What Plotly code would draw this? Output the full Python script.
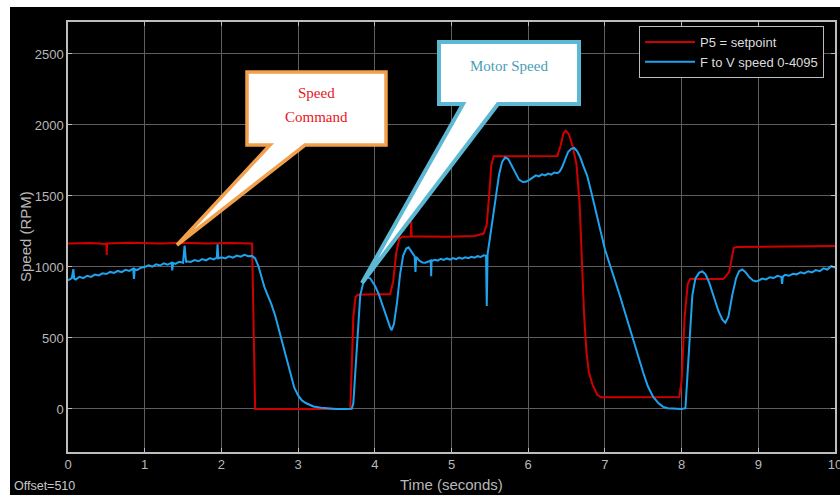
import plotly.graph_objects as go

# ---------------- data ----------------
setpoint_t = [0.00, 0.30, 0.50, 0.505, 0.51, 0.80, 1.20, 1.50, 1.80, 2.10, 2.40, 2.42, 2.44,
              3.00, 3.68, 3.70, 3.72, 3.75, 3.78, 4.00, 4.20, 4.24, 4.28, 4.32, 4.36,
              4.47, 4.475, 4.48, 4.60, 4.95, 5.30, 5.42, 5.46, 5.49, 5.52, 5.55,
              6.00, 6.38, 6.42, 6.46, 6.49, 6.53, 6.58, 6.63, 6.67, 6.70, 6.73, 6.76,
              6.79, 6.84, 6.90, 6.95, 7.50, 7.97, 8.00, 8.04, 8.08, 8.11, 8.54, 8.58,
              8.62, 8.65, 8.68, 8.72, 9.20, 9.60, 10.00]
setpoint_v = [1165, 1168, 1162, 1085, 1165, 1170, 1166, 1170, 1165, 1168, 1165, 600, 0,
              0, 0, 300, 650, 790, 805, 808, 808, 900, 1100, 1200, 1212,
              1214, 1320, 1214, 1215, 1212, 1218, 1235, 1300, 1500, 1720, 1780,
              1782, 1782, 1850, 1940, 1960, 1935, 1850, 1720, 1450, 1000, 650, 400,
              260, 170, 100, 82, 82, 84, 200, 650, 880, 915, 915, 935,
              965, 1050, 1135, 1140, 1142, 1145, 1148]

speed_t = [0.00, 0.05, 0.07, 0.08, 0.10, 0.15, 0.20, 0.25, 0.30, 0.35, 0.40, 0.45, 0.50,
           0.55, 0.60, 0.65, 0.70, 0.75, 0.80, 0.85, 0.86, 0.87, 0.90, 0.95, 1.00,
           1.05, 1.10, 1.15, 1.20, 1.25, 1.30, 1.35, 1.36, 1.37, 1.40, 1.45, 1.50,
           1.52, 1.54, 1.55, 1.60, 1.65, 1.70, 1.75, 1.80, 1.85, 1.90, 1.94, 1.95,
           1.96, 2.00, 2.05, 2.10, 2.15, 2.20, 2.25, 2.30, 2.35, 2.40, 2.44, 2.48,
           2.52, 2.56, 2.60, 2.65, 2.70, 2.75, 2.80, 2.85, 2.90, 2.95, 3.00, 3.05,
           3.10, 3.15, 3.20, 3.30, 3.40, 3.50, 3.60, 3.70, 3.72, 3.75, 3.78, 3.81,
           3.85, 3.90, 3.94, 4.00, 4.05, 4.10, 4.15, 4.20, 4.22, 4.25, 4.29, 4.33,
           4.37, 4.41, 4.44, 4.48, 4.52, 4.53, 4.54, 4.58, 4.62, 4.66, 4.70, 4.73,
           4.735, 4.74, 4.78, 4.82, 4.86, 4.90, 4.94, 4.98, 5.02, 5.06, 5.10, 5.14,
           5.18, 5.22, 5.26, 5.30, 5.34, 5.38, 5.42, 5.45, 5.46, 5.47, 5.50, 5.54,
           5.58, 5.62, 5.66, 5.70, 5.74, 5.78, 5.83, 5.88, 5.93, 5.97, 6.02, 6.06,
           6.10, 6.14, 6.18, 6.22, 6.26, 6.30, 6.34, 6.38, 6.41, 6.44, 6.48, 6.52,
           6.56, 6.60, 6.64, 6.68, 6.72, 6.77, 6.83, 6.90, 6.95, 7.00, 7.05, 7.10,
           7.15, 7.20, 7.25, 7.30, 7.37, 7.43, 7.50, 7.56, 7.63, 7.70, 7.76, 7.82,
           7.90, 8.00, 8.05, 8.08, 8.11, 8.14, 8.18, 8.23, 8.27, 8.31, 8.36, 8.42,
           8.48, 8.53, 8.57, 8.61, 8.66, 8.71, 8.75, 8.79, 8.83, 8.88, 8.93, 8.97,
           9.01, 9.05, 9.10, 9.15, 9.20, 9.25, 9.30, 9.31, 9.32, 9.35, 9.40, 9.45,
           9.50, 9.55, 9.60, 9.65, 9.70, 9.75, 9.80, 9.85, 9.90, 9.95, 10.00]
speed_v = [905, 922, 985, 918, 912, 930, 921, 938, 930, 946, 940, 955, 950,
           965, 958, 972, 963, 980, 972, 988, 915, 985, 978, 995, 1000,
           1012, 1003, 1018, 1010, 1025, 1016, 1030, 975, 1028, 1022, 1036, 1030,
           1150, 1032, 1040, 1035, 1048, 1040, 1055, 1046, 1062, 1053, 1065, 1160,
           1060, 1068, 1060, 1075, 1066, 1080, 1072, 1085, 1075, 1078, 1060, 1010,
           930, 860, 805, 740, 660, 560, 450, 345, 245, 150, 95, 60,
           42, 28, 18, 8, 3, 0, 0, 2, 40, 300, 600, 800,
           890, 925, 920, 870, 810, 730, 650, 575, 555, 600, 750, 950,
           1080, 1130, 1138, 1110, 1075, 965, 1070, 1045, 1032, 1030, 1040, 1045,
           935, 1042, 1050, 1045, 1058, 1050, 1060, 1052, 1062, 1055, 1066, 1058,
           1068, 1062, 1072, 1065, 1076, 1070, 1082, 1078, 725, 1090, 1200, 1340,
           1500, 1650, 1740, 1772, 1760, 1720, 1660, 1615, 1598, 1600, 1615, 1630,
           1645, 1638, 1652, 1645, 1658, 1650, 1665, 1660, 1672, 1700, 1760, 1810,
           1832, 1838, 1815, 1770, 1710, 1640, 1510, 1360, 1240, 1125, 1040, 960,
           875, 790, 700, 610, 490, 370, 255, 160, 85, 40, 15, 5,
           2, 0, 5, 300, 550, 800, 920, 960, 968, 950, 890, 790,
           690, 630, 607, 650, 800, 920, 970, 982, 965, 930, 905, 898,
           905, 918, 912, 928, 922, 938, 930, 880, 932, 945, 938, 952,
           948, 962, 955, 970, 962, 978, 970, 990, 982, 1005, 995]

series_names = ["P5 = setpoint", "F to V speed 0-4095"]
x_ticks = [0, 1, 2, 3, 4, 5, 6, 7, 8, 9, 10]
y_ticks = [0, 500, 1000, 1500, 2000, 2500]

# ---------------- layout geometry (pixels) ----------------
W, H = 840, 495
ML, MR, MT, MB = 68, 5, 22, 43
PW, PH = W - ML - MR, H - MT - MB


def px(x):
    return (x - ML) / PW


def py(y):
    return (H - MB - y) / PH


def callout_path(box, tail_l, tail_r, tip):
    x0, y0, x1, y1 = box
    pts = [(x0, y0), (x1, y0), (x1, y1), (tail_r, y1), tip, (tail_l, y1), (x0, y1)]
    return "M " + " L ".join(f"{px(a):.5f},{py(b):.5f}" for a, b in pts) + " Z"


def label(text, x, y, size, color, family="Liberation Sans, Arial", angle=0, xanchor="center"):
    return dict(text=text, x=px(x), y=py(y), xref="paper", yref="paper", showarrow=False,
                xanchor=xanchor, yanchor="middle", textangle=angle,
                font=dict(family=family, size=size, color=color))


SERIF = "Liberation Serif, Times New Roman"

fig = go.Figure()
fig.add_trace(go.Scatter(x=setpoint_t, y=setpoint_v, mode="lines", name=series_names[0],
                         line=dict(color="#d10000", width=2)))
fig.add_trace(go.Scatter(x=speed_t, y=speed_v, mode="lines", name=series_names[1],
                         line=dict(color="#1fa3ee", width=2)))

axis_common = dict(
    showgrid=True, gridcolor="#5e5e5e", gridwidth=1,
    showline=True, linecolor="#bdbdbd", linewidth=1.5, mirror="ticks",
    ticks="inside", ticklen=4, tickcolor="#bdbdbd", tickwidth=1,
    zeroline=False, ticklabeloverflow="allow", automargin=False,
    tickfont=dict(family="Liberation Sans, Arial", size=13, color="#b8b8b8"),
)

fig.update_layout(
    width=W, height=H,
    margin=dict(l=ML, r=MR, t=MT, b=MB, autoexpand=False),
    paper_bgcolor="black", plot_bgcolor="black",
    xaxis=dict(range=[0, 10], tickvals=x_ticks, **axis_common),
    yaxis=dict(range=[-303, 2725], tickvals=y_ticks, **axis_common),
    showlegend=True,
    legend=dict(x=px(639), y=py(26), xanchor="left", yanchor="top",
                bgcolor="black", bordercolor="#bdbdbd", borderwidth=1,
                font=dict(family="Liberation Sans, Arial", size=13, color="#dcdcdc"),
                tracegroupgap=0, itemwidth=50),
    shapes=[
        # white page strips (top and left)
        dict(type="rect", xref="paper", yref="paper", x0=px(0), x1=px(W), y0=py(7), y1=py(0),
             fillcolor="white", line=dict(width=0), layer="below"),
        dict(type="rect", xref="paper", yref="paper", x0=px(0), x1=px(10), y0=py(H), y1=py(0),
             fillcolor="white", line=dict(width=0), layer="below"),
        # callouts
        dict(type="path", xref="paper", yref="paper",
             path=callout_path((247, 72, 386, 145), 270, 305, (177, 245)),
             fillcolor="white", line=dict(color="#f2a04c", width=3.5), layer="above"),
        dict(type="path", xref="paper", yref="paper",
             path=callout_path((439, 42, 579, 104), 463, 498, (362, 283)),
             fillcolor="white", line=dict(color="#5cb8d3", width=4), layer="above"),
    ],
    annotations=[
        label("Speed", 316, 93, 15, "#e8141c", SERIF),
        label("Command", 316, 117, 15, "#e8141c", SERIF),
        label("Motor Speed", 509, 66, 15, "#4a9db5", SERIF),
        label("Time (seconds)", 451, 484, 15, "#b8b8b8"),
        label("Speed (RPM)", 25, 237, 15, "#b8b8b8", angle=-90),
        label("Offset=510", 12, 486, 12.5, "#c8c8c8", xanchor="left"),
    ],
)

fig.write_html("out.html", config={"displayModeBar": False},
               post_script="document.body.style.margin='0';document.body.style.padding='0';")
